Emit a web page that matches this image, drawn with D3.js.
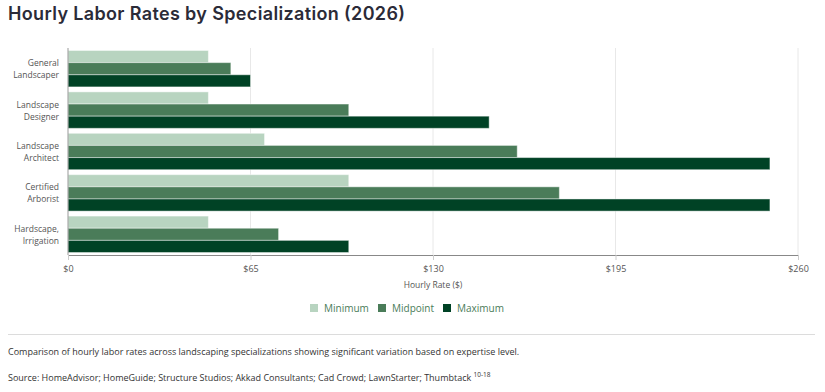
<!DOCTYPE html>
<html><head><meta charset="utf-8">
<script src="https://cdn.jsdelivr.net/npm/d3@7"></script>
<style>
body{margin:0;background:#fff;font-family:"Open Sans",sans-serif;}
svg{display:block;}
</style></head><body>
<svg id="c" width="825" height="392"></svg>
<script>
const categories = [["General","Landscaper"],["Landscape","Designer"],["Landscape","Architect"],["Certified","Arborist"],["Hardscape,","Irrigation"]];
const seriesNames = ["Minimum","Midpoint","Maximum"];
const minimum = [50,50,70,100,50];
const midpoint = [58,100,160,175,75];
const maximum = [65,150,250,250,100];
const tickValues = [0,65,130,195,260];
const colors = ["#b8d4c0","#4a7c59","#004225"];

const series = [minimum, midpoint, maximum];
const svg = d3.select("#c");
const m = {l:68, r:27, t:48, b:137};
const W = 825, H = 392;

const title = svg.append("text").attr("x",8).attr("y",20).attr("font-family","Inter, 'Noto Sans', sans-serif")
  .attr("font-weight",600).attr("font-size",18).attr("fill","#2b2b38").text("Hourly Labor Rates by Specialization (2026)");
title.attr("textLength",397).attr("lengthAdjust","spacing");

const x = d3.scaleLinear().domain([0,260]).range([m.l, W-m.r]);
const y0 = d3.scaleBand().domain(d3.range(categories.length)).range([m.t, H-m.b]).paddingInner(0.12).paddingOuter(0.06);
const y1 = d3.scaleBand().domain(d3.range(series.length)).range([0, y0.bandwidth()]);

// gridlines
svg.append("g").selectAll("line").data(tickValues.slice(1)).join("line")
  .attr("x1",d=>x(d)).attr("x2",d=>x(d)).attr("y1",m.t).attr("y2",H-m.b)
  .attr("stroke","#e8e8e8").attr("stroke-width",1);

// bars
const g = svg.append("g");
categories.forEach((c,i)=>{
  series.forEach((s,j)=>{
    g.append("rect").attr("x",x(0)).attr("y",y0(i)+y1(j))
      .attr("width",x(s[i])-x(0)).attr("height",y1.bandwidth())
      .attr("fill",colors[j]).attr("stroke","#ffffff").attr("stroke-opacity",0.45).attr("stroke-width",1);
  });
});

// y-axis line
svg.append("line").attr("x1",m.l).attr("x2",m.l).attr("y1",m.t).attr("y2",H-m.b).attr("stroke","#999");

// x axis
const xa = svg.append("g").attr("transform",`translate(0,${H-m.b})`)
  .call(d3.axisBottom(x).tickValues(tickValues).tickFormat(d=>"$"+d).tickSize(5).tickPadding(6));
xa.select(".domain").attr("stroke","#888");
xa.selectAll(".tick line").attr("stroke","#ccc");
xa.selectAll("text").attr("font-family","'Open Sans',sans-serif").attr("font-size",9).attr("fill","#555");

// y labels
categories.forEach((c,i)=>{
  const cy = y0(i)+y0.bandwidth()/2;
  const t = svg.append("text").attr("x",m.l-9).attr("text-anchor","end")
    .attr("font-size",8.5).attr("fill","#555");
  c.forEach((line,k)=>{
    t.append("tspan").attr("x",m.l-9).attr("y",cy + (k===0?-2.5:9.5)).text(line);
  });
});

// axis title
svg.append("text").attr("x",(x(0)+x(260))/2).attr("y",288).attr("text-anchor","middle")
  .attr("font-size",8.5).attr("fill","#555").text("Hourly Rate ($)");

// legend
const lx = [310, 378, 443];
seriesNames.forEach((n,j)=>{
  svg.append("rect").attr("x",lx[j]).attr("y",304).attr("width",8).attr("height",8).attr("fill",colors[j]);
  svg.append("text").attr("x",lx[j]+14).attr("y",311.5).attr("font-size",10).attr("fill","#4a7c59").text(n);
});

// separator
svg.append("line").attr("x1",8).attr("x2",815).attr("y1",334.5).attr("y2",334.5).attr("stroke","#dcdcdc");

svg.append("text").attr("x",8).attr("y",355).attr("font-size",9).attr("fill","#333")
  .text("Comparison of hourly labor rates across landscaping specializations showing significant variation based on expertise level.");
const src = svg.append("text").attr("x",8).attr("y",381).attr("font-size",9).attr("fill","#333")
  .text("Source: HomeAdvisor; HomeGuide; Structure Studios; Akkad Consultants; Cad Crowd; LawnStarter; Thumbtack ");
src.append("tspan").attr("dy",-4).attr("font-size",6.5).text("10-18");
</script>
</body></html>
